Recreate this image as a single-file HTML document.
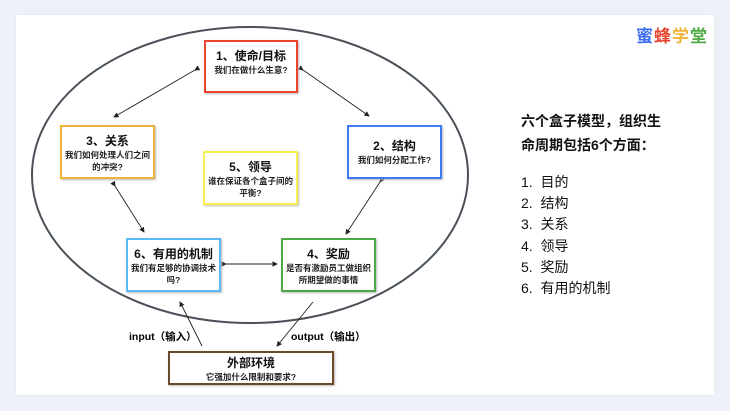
<!DOCTYPE html>
<html><head><meta charset="utf-8"><style>
body{margin:0;width:730px;height:411px;background:#eef1f8;font-family:"Liberation Sans","Noto Sans CJK SC",sans-serif;position:relative;overflow:hidden}
.card{position:absolute;left:16px;top:15px;width:698px;height:380px;background:#fff;box-shadow:0 0 4px #dde3f0}
.b{position:absolute;background:#fff;border:2px solid;box-sizing:border-box;text-align:center;box-shadow:1px 1px 2px #bbb}
.b .t{font-size:12px;font-weight:bold;margin-top:6px;line-height:16px;color:#111}
.b .s{font-size:8.5px;font-weight:bold;line-height:12px;color:#222;padding:0 3px}
.r{position:absolute;font-size:14px;color:#111;line-height:21.2px}
</style></head><body>
<div class="card"></div>
<svg width="730" height="411" style="position:absolute;left:0;top:0">
<defs><marker id="a" markerWidth="6" markerHeight="6" refX="5" refY="3" orient="auto"><path d="M0,0 L6,3 L0,6z" fill="#222"/></marker></defs>
<ellipse cx="250" cy="175" rx="218" ry="148" fill="none" stroke="#4a5158" stroke-width="2"/>
<g stroke="#222" stroke-width="0.9" marker-end="url(#a)" marker-start="url(#a)">
<line x1="195" y1="70" x2="114" y2="117"/>
<line x1="303" y1="70" x2="369" y2="116"/>
<line x1="115" y1="186" x2="144" y2="232"/>
<line x1="380" y1="182" x2="346" y2="234"/>
<line x1="226" y1="264" x2="277" y2="264"/>
</g>
<g stroke="#222" stroke-width="0.9" marker-end="url(#a)">
<line x1="202" y1="346" x2="180" y2="302"/>
<line x1="313" y1="302" x2="277" y2="346"/>
</g>
<text x="129" y="340" font-size="10.5" font-weight="bold" font-family="Liberation Sans,Noto Sans CJK SC,sans-serif">input（输入）</text>
<text x="291" y="340" font-size="10.5" font-weight="bold" font-family="Liberation Sans,Noto Sans CJK SC,sans-serif">output（输出）</text>
</svg>
<div class="b" style="left:204px;top:40px;width:94px;height:53px;border-color:#e8432e"><div class="t">1、使命/目标</div><div class="s">我们在做什么生意?</div></div>
<div class="b" style="left:60px;top:125px;width:95px;height:54px;border-color:#f0b43a"><div class="t">3、关系</div><div class="s">我们如何处理人们之间的冲突?</div></div>
<div class="b" style="left:347px;top:125px;width:95px;height:54px;border-color:#3b7cf2"><div class="t" style="margin-top:11px">2、结构</div><div class="s">我们如何分配工作?</div></div>
<div class="b" style="left:203px;top:151px;width:95px;height:54px;border-color:#f5f04f"><div class="t">5、领导</div><div class="s">谁在保证各个盒子间的平衡?</div></div>
<div class="b" style="left:126px;top:238px;width:95px;height:54px;border-color:#5ab8f5"><div class="t">6、有用的机制</div><div class="s">我们有足够的协调技术吗?</div></div>
<div class="b" style="left:281px;top:238px;width:95px;height:54px;border-color:#4ea845"><div class="t">4、奖励</div><div class="s">是否有激励员工做组织所期望做的事情</div></div>
<div class="b" style="left:168px;top:351px;width:166px;height:34px;border-color:#6b4a2a"><div class="t" style="margin-top:2px">外部环境</div><div class="s">它强加什么限制和要求?</div></div>
<div style="position:absolute;left:636px;top:22px;font-size:17px;font-weight:bold;letter-spacing:1px;font-family:'Noto Sans CJK SC',sans-serif"><span style="color:#3b6cf2">蜜</span><span style="color:#e8432e">蜂</span><span style="color:#f0b43a">学</span><span style="color:#4ea845">堂</span></div>
<div class="r" style="left:521px;top:109px;font-weight:bold;line-height:24px">六个盒子模型，组织生<br>命周期包括6个方面：</div>
<div class="r" style="left:521px;top:172px">1.&nbsp;&nbsp;目的<br>2.&nbsp;&nbsp;结构<br>3.&nbsp;&nbsp;关系<br>4.&nbsp;&nbsp;领导<br>5.&nbsp;&nbsp;奖励<br>6.&nbsp;&nbsp;有用的机制</div>
</body></html>
